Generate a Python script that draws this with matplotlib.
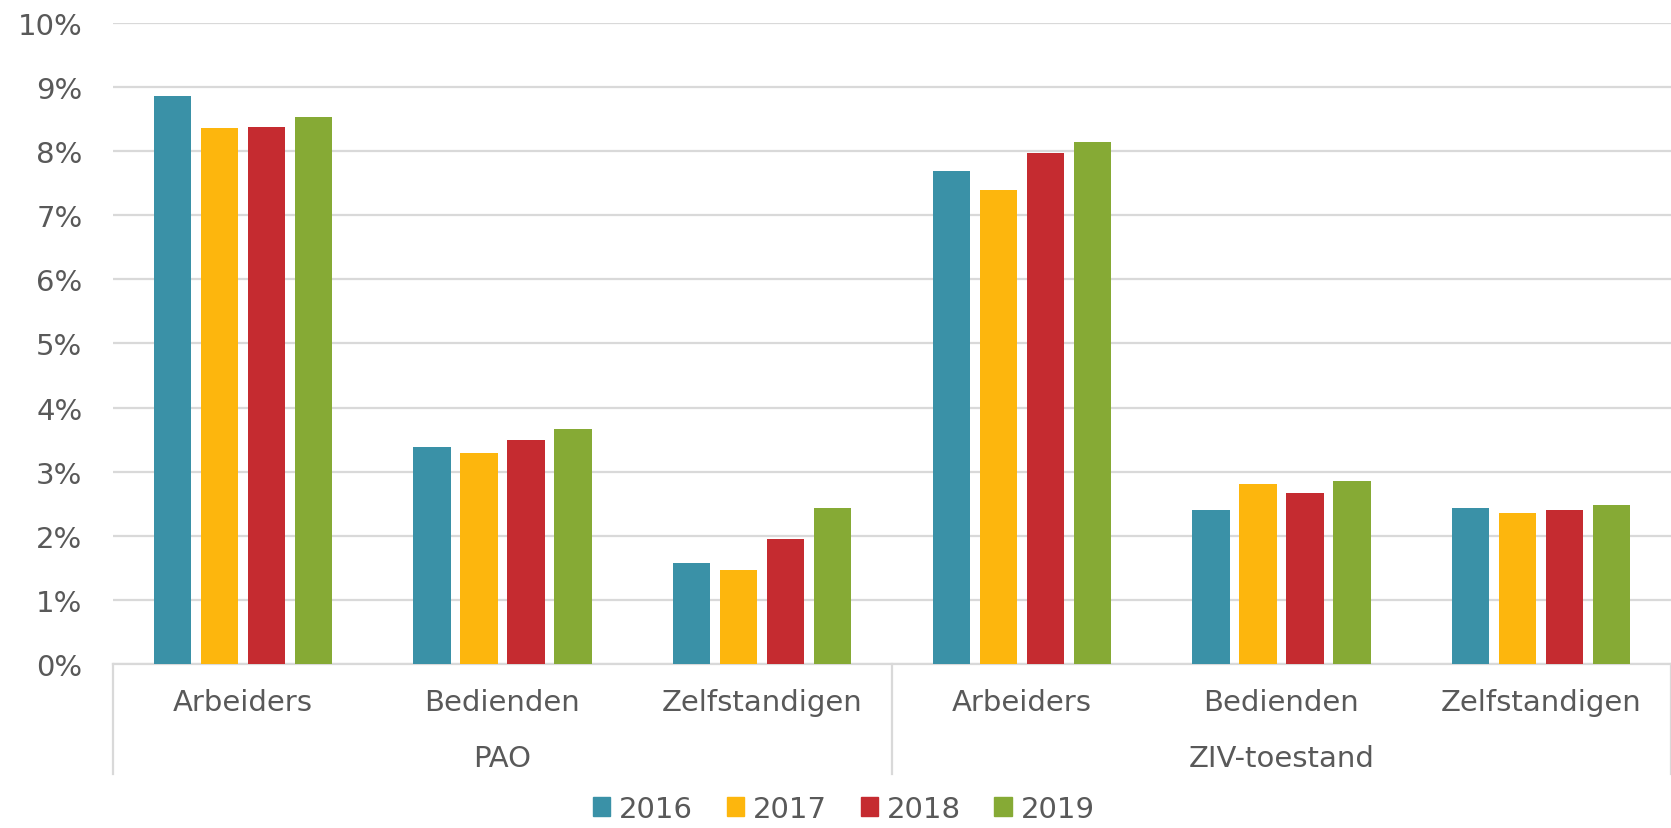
import numpy as np
import matplotlib
matplotlib.use("Agg")
import matplotlib.pyplot as plt
import matplotlib.transforms as mtransforms
from matplotlib.patches import Patch

# ── data ──
groups = ["PAO", "ZIV-toestand"]
categories = ["Arbeiders", "Bedienden", "Zelfstandigen"]
years = ["2016", "2017", "2018", "2019"]
colors = ["#3A91A7", "#FDB60D", "#C52B30", "#86AA35"]

v2016 = [8.86, 3.39, 1.58, 7.69, 2.40, 2.43]
v2017 = [8.36, 3.29, 1.46, 7.39, 2.80, 2.35]
v2018 = [8.38, 3.49, 1.95, 7.97, 2.67, 2.40]
v2019 = [8.54, 3.66, 2.43, 8.14, 2.85, 2.48]
series = [v2016, v2017, v2018, v2019]

TXT = "#595959"
GRID = "#D9D9D9"
FS = 21
plt.rcParams["font.family"] = ["DejaVu Sans"]

fig = plt.figure(figsize=(16.71, 8.29), dpi=100)
ax = fig.add_axes([0.0676, 0.198, 0.9324, 0.773])

n_cat = len(groups) * len(categories)
x = np.arange(n_cat)
step, width = 0.181, 0.143
for i, (vals, c) in enumerate(zip(series, colors)):
    ax.bar(x + (i - 1.5) * step, vals, width=width, color=c, zorder=3,
           label=years[i])

ax.set_xlim(-0.5, n_cat - 0.5)
ax.set_ylim(0, 10)
ax.set_yticks(range(0, 11))
ax.set_yticklabels([f"{t}%" for t in range(0, 11)])
ax.tick_params(axis="y", length=0, pad=22, labelsize=FS, labelcolor=TXT)
ax.set_xticks([])
ax.grid(axis="y", color=GRID, lw=1.6, zorder=0)
for s in ("top", "right", "left"):
    ax.spines[s].set_visible(False)
ax.spines["bottom"].set_color(GRID)
ax.spines["bottom"].set_linewidth(1.6)

# ── multi-level category axis ──
tr = mtransforms.blended_transform_factory(ax.transData, ax.transAxes)
for k, lab in enumerate(categories * len(groups)):
    ax.text(k, -0.059, lab, transform=tr, ha="center", va="center",
            fontsize=FS, color=TXT)
for g, lab in enumerate(groups):
    ax.text(g * 3 + 1, -0.147, lab, transform=tr, ha="center", va="center",
            fontsize=FS, color=TXT)
for xb in (-0.5, 2.5, n_cat - 0.5):
    ax.plot([xb, xb], [0, -0.172], transform=tr, color=GRID, lw=1.6,
            clip_on=False)

handles = [Patch(color=c, label=y) for c, y in zip(colors, years)]
leg = fig.legend(handles=handles, loc="center", bbox_to_anchor=(0.505, 0.023),
                 ncol=4, frameon=False, fontsize=FS, handlelength=0.6,
                 handleheight=0.6, handletextpad=0.3, columnspacing=1.15,
                 borderpad=0)
for t in leg.get_texts():
    t.set_color(TXT)

fig.savefig("out.png", dpi=100)
